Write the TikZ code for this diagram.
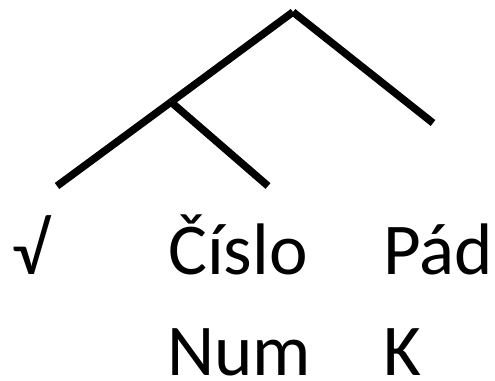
\documentclass[tikz,border=0pt]{standalone}
\usepackage{fontspec}
\setmainfont{Carlito}
\begin{document}
\begin{tikzpicture}[x=1pt,y=-1pt,
  branch/.style={line width=7.5pt,line cap=butt},
  lbl/.style={inner sep=0pt,anchor=base west,font=\fontsize{73}{86}\selectfont}]
\useasboundingbox (0,0) rectangle (495,380);
\coordinate (root) at (293,12);
\coordinate (mid) at (171,102);
\coordinate (l) at (57,186);
\coordinate (c) at (268,186);
\coordinate (r) at (433,123);
\draw[branch] (root) -- (mid);
\draw[branch] (mid) -- (l);
\draw[branch] (mid) -- (c);
\draw[branch] (root) -- (r);
\node[lbl] (root1) at (12,274) {√};
\node[lbl] (cislo) at (168,274) {Číslo};
\node[lbl] (pad) at (383,274) {Pád};
\node[lbl] (num) at (167,375) {Num};
\node[lbl] (k) at (383,375) {K};
\end{tikzpicture}
\end{document}
